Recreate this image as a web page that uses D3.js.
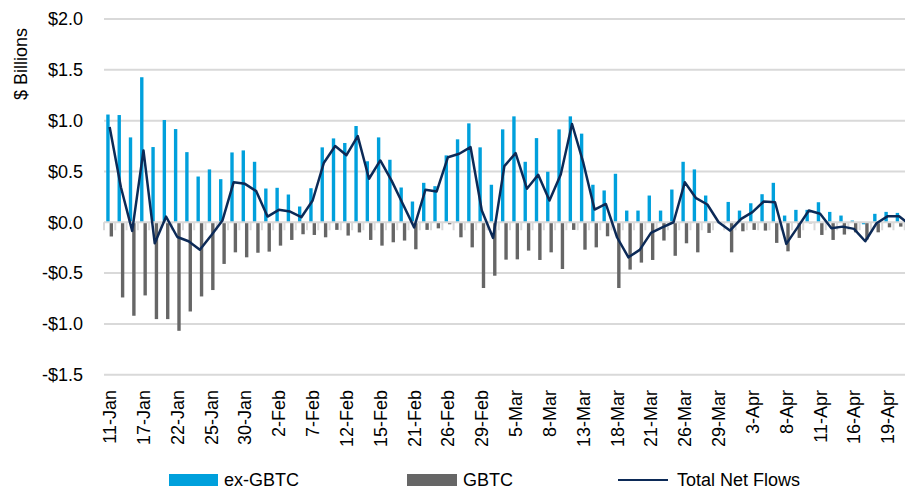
<!DOCTYPE html>
<html>
<head>
<meta charset="utf-8">
<script src="https://cdn.jsdelivr.net/npm/d3@7"></script>
<style>
  body { margin: 0; background: #fff; }
  svg { display: block; font-family: "Liberation Sans", Arial, sans-serif; }
</style>
</head>
<body>
<div id="chart"></div>
<script>
// trading days, 11-Jan to 23-Apr
var days = ["11-Jan","12-Jan","16-Jan","17-Jan","18-Jan","19-Jan","22-Jan","23-Jan","24-Jan","25-Jan","26-Jan",
    "29-Jan","30-Jan","31-Jan","1-Feb","2-Feb","5-Feb","6-Feb","7-Feb","8-Feb","9-Feb","12-Feb","13-Feb","14-Feb",
    "15-Feb","16-Feb","20-Feb","21-Feb","22-Feb","23-Feb","26-Feb","27-Feb","28-Feb","29-Feb","1-Mar","4-Mar",
    "5-Mar","6-Mar","7-Mar","8-Mar","11-Mar","12-Mar","13-Mar","14-Mar","15-Mar","18-Mar","19-Mar","20-Mar",
    "21-Mar","22-Mar","25-Mar","26-Mar","27-Mar","28-Mar","29-Mar","1-Apr","2-Apr","3-Apr","4-Apr","5-Apr",
    "8-Apr","9-Apr","10-Apr","11-Apr","12-Apr","15-Apr","16-Apr","17-Apr","18-Apr","19-Apr","22-Apr","23-Apr"];

var exGbtc = [1.06,1.055,0.835,1.427,0.74,1.006,0.917,0.69,0.45,0.52,0.424,
    0.687,0.707,0.595,0.332,0.339,0.273,0.155,0.335,0.737,0.825,0.78,0.947,0.6,0.835,0.615,0.342,0.204,0.388,0.355,0.658,
    0.816,0.973,0.737,0.369,0.914,1.042,0.595,0.828,0.497,0.914,1.042,0.872,0.369,0.313,0.477,0.115,0.115,0.263,0.115,
    0.322,0.595,0.52,0.263,0,0.2,0.115,0.187,0.276,0.388,0.066,0.122,0.122,0.197,0.102,0.066,0.017,-0.02,0.083,0.102,0.092,0.05];

var gbtc = [-0.14,-0.74,-0.92,-0.72,-0.953,-0.953,-1.068,-0.878,-0.73,-0.667,-0.41,
    -0.296,-0.345,-0.30,-0.289,-0.23,-0.174,-0.118,-0.125,-0.148,-0.075,-0.131,-0.10,-0.174,-0.23,-0.197,-0.18,-0.266,-0.075,-0.06,-0.02,
    -0.148,-0.247,-0.647,-0.526,-0.368,-0.365,-0.279,-0.371,-0.296,-0.46,-0.075,-0.27,-0.247,-0.138,-0.647,-0.466,-0.397,-0.371,-0.18,
    -0.33,-0.207,-0.296,-0.105,0,-0.296,-0.089,-0.075,-0.082,-0.203,-0.286,-0.154,-0.01,-0.125,-0.174,-0.121,-0.099,-0.17,-0.099,-0.05,-0.043,-0.08];

var totalNet = [0.937,0.345,-0.085,0.707,-0.207,0.055,-0.145,-0.187,-0.27,-0.13,0.017,
    0.394,0.378,0.306,0.056,0.122,0.105,0.05,0.214,0.586,0.75,0.66,0.848,0.428,0.608,0.41,0.18,-0.05,0.32,0.303,0.64,
    0.674,0.74,0.115,-0.154,0.552,0.68,0.33,0.467,0.214,0.47,0.967,0.586,0.125,0.18,-0.15,-0.345,-0.272,-0.105,-0.05,
    0.0,0.394,0.237,0.175,0,-0.082,0.033,0.099,0.204,0.197,-0.213,-0.05,0.115,0.083,-0.06,-0.043,-0.065,-0.187,-0.01,0.06,0.06,-0.03];

var yTicks = [-1.5, -1.0, -0.5, 0, 0.5, 1.0, 1.5, 2.0];

var blue = "#00a0dc", grey = "#666666", navy = "#0c2a57", gridCol = "#d9d9d9";

var width = 905, height = 489;

var svg = d3.select("#chart").append("svg")
    .attr("width", width)
    .attr("height", height);

// band per trading day, the last one runs past the right edge
var x = d3.scaleBand().domain(d3.range(days.length)).range([104, 916]);
var y = d3.scaleLinear().domain([-1.5, 2]).range([374.7, 19]);
var bw = x.bandwidth() * 0.3;

function fmt(v) {
    return (v < 0 ? "-$" : "$") + Math.abs(v).toFixed(1);
}

// gridlines
svg.append("g")
    .selectAll("line")
    .data(yTicks.filter(function(d) { return d !== 0; }))
    .enter().append("line")
    .attr("x1", 104).attr("x2", width)
    .attr("y1", function(d) { return y(d); })
    .attr("y2", function(d) { return y(d); })
    .attr("stroke", gridCol)
    .attr("stroke-width", 2);

// y labels
svg.append("g")
    .selectAll("text")
    .data(yTicks)
    .enter().append("text")
    .attr("x", 83)
    .attr("y", function(d) { return y(d); })
    .attr("dy", "0.35em")
    .attr("text-anchor", "end")
    .attr("font-size", 18)
    .attr("fill", "#000")
    .text(fmt);

svg.append("text")
    .attr("transform", "translate(27,64) rotate(-90)")
    .attr("text-anchor", "middle")
    .attr("font-size", 18)
    .text("$ Billions");

var plot = svg.append("g");

plot.selectAll(".ex")
    .data(exGbtc)
    .enter().append("rect")
    .attr("x", function(d, i) { return x(i) + x.bandwidth() / 2 - bw; })
    .attr("width", bw)
    .attr("y", function(d) { return y(Math.max(0, d)); })
    .attr("height", function(d) { return Math.abs(y(d) - y(0)); })
    .attr("fill", blue);

plot.selectAll(".gb")
    .data(gbtc)
    .enter().append("rect")
    .attr("x", function(d, i) { return x(i) + x.bandwidth() / 2; })
    .attr("width", bw)
    .attr("y", function(d) { return y(Math.max(0, d)); })
    .attr("height", function(d) { return Math.abs(y(d) - y(0)); })
    .attr("fill", grey);

// zero axis with light tick marks between days
svg.append("line")
    .attr("x1", 104).attr("x2", width)
    .attr("y1", y(0)).attr("y2", y(0))
    .attr("stroke", gridCol)
    .attr("stroke-width", 2);

svg.append("g")
    .selectAll("line")
    .data(d3.range(days.length + 1))
    .enter().append("line")
    .attr("x1", function(d) { return 104 + d * x.step(); })
    .attr("x2", function(d) { return 104 + d * x.step(); })
    .attr("y1", y(0))
    .attr("y2", y(0) + 8)
    .attr("stroke", gridCol)
    .attr("stroke-width", 2);

var valueline = d3.line()
    .x(function(d, i) { return x(i) + x.bandwidth() / 2; })
    .y(function(d) { return y(d); });

svg.append("path")
    .datum(totalNet)
    .attr("d", valueline)
    .attr("fill", "none")
    .attr("stroke", navy)
    .attr("stroke-width", 2.5)
    .attr("stroke-linejoin", "round");

// x labels, every third day
svg.append("g")
    .selectAll("text")
    .data(d3.range(0, 70, 3))
    .enter().append("text")
    .attr("transform", function(i) {
        return "translate(" + (x(i) + x.bandwidth() / 2) + ",390) rotate(-90)";
    })
    .attr("dy", "0.36em")
    .attr("text-anchor", "end")
    .attr("font-size", 18)
    .text(function(i) { return days[i]; });

// legend
var legend = svg.append("g");
legend.append("rect").attr("x", 169).attr("y", 474).attr("width", 49).attr("height", 12).attr("fill", blue);
legend.append("text").attr("x", 224).attr("y", 480).attr("dy", "0.35em").attr("font-size", 18).text("ex-GBTC");
legend.append("rect").attr("x", 407).attr("y", 474).attr("width", 50).attr("height", 12).attr("fill", grey);
legend.append("text").attr("x", 463).attr("y", 480).attr("dy", "0.35em").attr("font-size", 18).text("GBTC");
legend.append("line").attr("x1", 618).attr("x2", 668).attr("y1", 480).attr("y2", 480)
    .attr("stroke", navy).attr("stroke-width", 2);
legend.append("text").attr("x", 677).attr("y", 480).attr("dy", "0.35em").attr("font-size", 18).text("Total Net Flows");
</script>
</body>
</html>
